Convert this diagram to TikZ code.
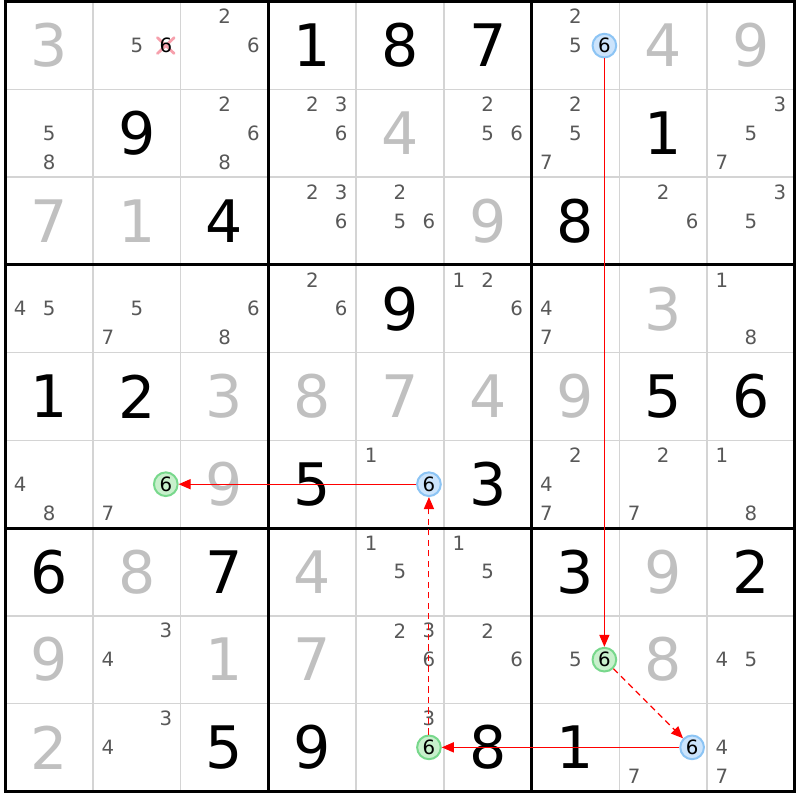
\documentclass[tikz,border=0pt]{standalone}
\usepackage{fontspec}
\setmainfont{DejaVu Sans}
\usetikzlibrary{arrows.meta}

\definecolor{solvedgray}{RGB}{192,192,192}
\definecolor{candgray}{RGB}{88,88,88}
\definecolor{gridgray}{RGB}{212,212,212}
\definecolor{startfill}{RGB}{204,228,252}
\definecolor{startdraw}{RGB}{140,196,244}
\definecolor{endfill}{RGB}{200,240,204}
\definecolor{enddraw}{RGB}{120,216,140}
\definecolor{crosspink}{RGB}{246,160,172}

\begin{document}
\begin{tikzpicture}[x=1cm,y=1cm]
	\tikzstyle{given} = [font=\fontsize{19}{19}\selectfont, text=black, inner sep=0pt]
	\tikzstyle{solved} = [font=\fontsize{19}{19}\selectfont, text=solvedgray, inner sep=0pt]
	\tikzstyle{cand} = [font=\fontsize{6.4}{6.4}\selectfont, text=candgray, inner sep=0pt]
	\tikzstyle{cand_start} = [cand, text=black, circle, minimum size=0.27cm, draw=startdraw, fill=startfill, line width=0.65pt]
	\tikzstyle{cand_end} = [cand, text=black, circle, minimum size=0.27cm, draw=enddraw, fill=endfill, line width=0.65pt]
	\tikzstyle{link_strong} = [draw=red, line width=0.35pt, -{Triangle[length=3.9pt,width=3.3pt]}]
	\tikzstyle{link_weak} = [link_strong, dash pattern=on 2pt off 1.4pt]

	\useasboundingbox (-0.06,-0.10) rectangle (9.06,9.02);

%------------------------------------------------------------
	\foreach \i in {1,...,8} {
		\draw[gridgray, line width=0.5pt] (\i,0) -- (\i,9);
		\draw[gridgray, line width=0.5pt] (0,\i) -- (9,\i);
	}
	\foreach \i in {0,3,6,9} {
		\draw[black, line width=1pt] (\i,-0.015) -- (\i,9.015);
		\draw[black, line width=1pt] (-0.015,\i) -- (9.015,\i);
	}

%------------------------------------------------------------
	\foreach \r/\c/\v in {0/3/1, 0/4/8, 0/5/7, 1/1/9, 1/7/1, 2/2/4, 2/6/8, 3/4/9,
		4/0/1, 4/1/2, 4/7/5, 4/8/6, 5/3/5, 5/5/3, 6/0/6, 6/2/7, 6/6/3, 6/8/2,
		8/2/5, 8/3/9, 8/5/8, 8/6/1}
		\node[given] (g\r\c) at (\c+0.5, 8.5-\r) {\v};

	\foreach \r/\c/\v in {0/0/3, 0/7/4, 0/8/9, 1/4/4, 2/0/7, 2/1/1, 2/5/9, 3/7/3,
		4/2/3, 4/3/8, 4/4/7, 4/5/4, 4/6/9, 5/2/9, 6/1/8, 6/3/4, 6/7/9,
		7/0/9, 7/2/1, 7/3/7, 7/7/8, 8/0/2}
		\node[solved] (v\r\c) at (\c+0.5, 8.5-\r) {\v};

%------------------------------------------------------------
	\foreach \r/\c/\ds in {0/1/{5}, 0/2/{2,6}, 0/6/{2,5},
		1/0/{5,8}, 1/2/{2,6,8}, 1/3/{2,3,6}, 1/5/{2,5,6}, 1/6/{2,5,7}, 1/8/{3,5,7},
		2/3/{2,3,6}, 2/4/{2,5,6}, 2/7/{2,6}, 2/8/{3,5},
		3/0/{4,5}, 3/1/{5,7}, 3/2/{6,8}, 3/3/{2,6}, 3/5/{1,2,6}, 3/6/{4,7}, 3/8/{1,8},
		5/0/{4,8}, 5/1/{7}, 5/4/{1}, 5/6/{2,4,7}, 5/7/{2,7}, 5/8/{1,8},
		6/4/{1,5}, 6/5/{1,5},
		7/1/{3,4}, 7/4/{2,3,6}, 7/5/{2,6}, 7/6/{5}, 7/8/{4,5},
		8/1/{3,4}, 8/4/{3}, 8/7/{7}, 8/8/{4,7}}
		\foreach \d in \ds
			\node[cand] (k\r\c\d) at ({\c+0.5+(mod(\d-1,3)-1)*0.33}, {8.5-\r-(floor((\d-1)/3)-1)*0.33}) {\d};

%------------------------------------------------------------
	% eliminated candidate
	\coordinate (x01) at (1.83,8.5);
	\draw[crosspink, line width=0.9pt, line cap=round] ([shift={(-0.095,-0.09)}]x01) -- ([shift={(0.095,0.09)}]x01);
	\draw[crosspink, line width=0.9pt, line cap=round] ([shift={(-0.095,0.09)}]x01) -- ([shift={(0.095,-0.09)}]x01);
	\node[cand, text=black] (k016) at (x01) {6};

%------------------------------------------------------------
	\node[cand_start] (s06) at (6.83,8.5) {6};
	\node[cand_end] (e76) at (6.83,1.5) {6};
	\node[cand_start] (s87) at (7.83,0.5) {6};
	\node[cand_end] (e84) at (4.83,0.5) {6};
	\node[cand_start] (s54) at (4.83,3.5) {6};
	\node[cand_end] (e51) at (1.83,3.5) {6};

	\draw[link_strong] (s06) -- (e76);
	\draw[link_weak] (e76) -- (s87);
	\draw[link_strong] (s87) -- (e84);
	\draw[link_weak] (e84) -- (s54);
	\draw[link_strong] (s54) -- (e51);

\end{tikzpicture}
\end{document}
